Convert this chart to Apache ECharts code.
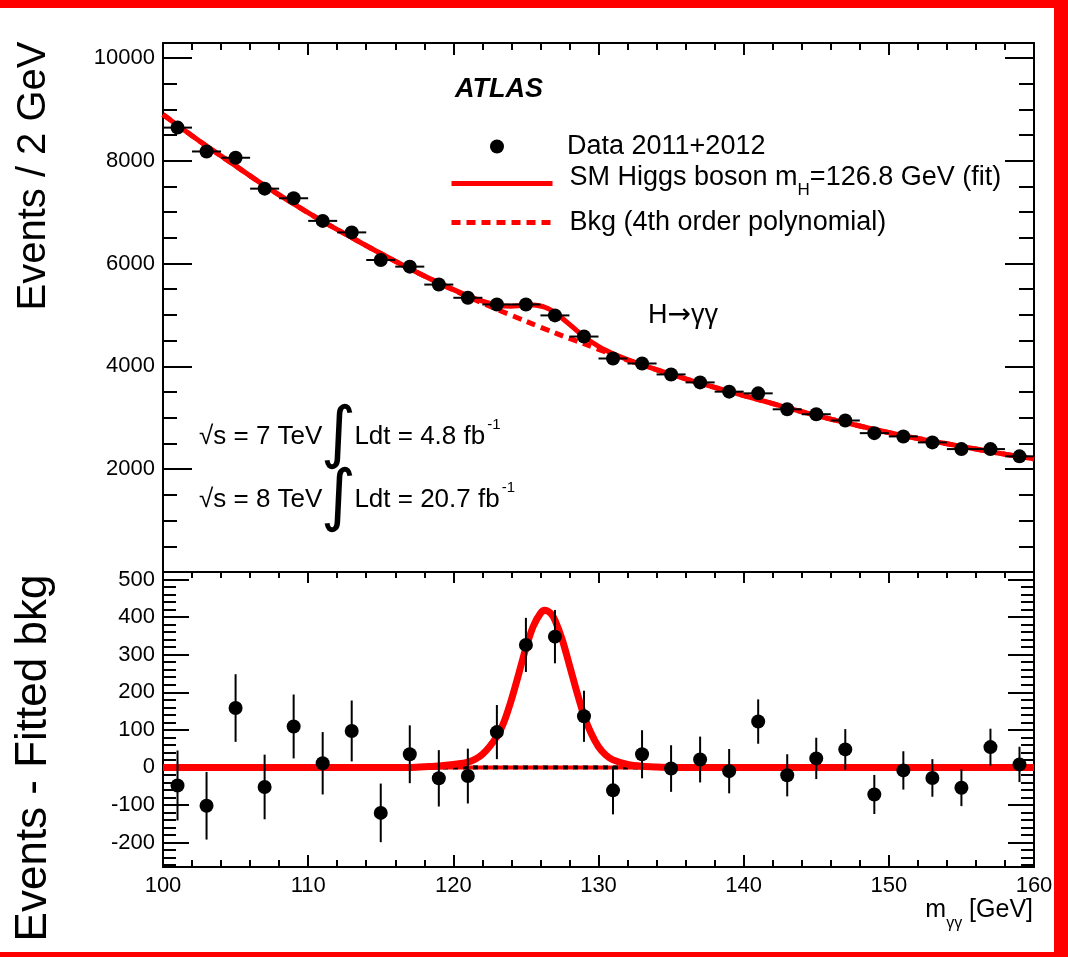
<!DOCTYPE html>
<html>
<head>
<meta charset="utf-8">
<script src="https://cdn.jsdelivr.net/npm/echarts@6/dist/echarts.min.js"></script>
<style>
html,body{margin:0;padding:0;background:#fff;}
#chart{width:1068px;height:957px;}
</style>
</head>
<body>
<div id="chart"></div>
<script>
// ---------------- data ----------------
const binCenters = [101,103,105,107,109,111,113,115,117,119,121,123,125,127,129,131,133,135,137,139,141,143,145,147,149,151,153,155,157,159];
const binWidth = 2;
const events = [8644,8180,8058,7457,7270,6830,6606,6069,5940,5591,5334,5204,5204,4991,4580,4153,4056,3843,3688,3508,3475,3165,3069,2947,2701,2637,2521,2391,2391,2250];
const eventErr = [93,90,90,86,85,83,81,78,77,75,73,72,72,71,68,64,64,62,61,59,59,56,55,54,52,51,50,49,49,47];
const residual = [-48,-102,158,-52,109,11,97,-121,35,-29,-23,94,326,348,136,-61,35,-3,21,-10,122,-21,24,48,-72,-8,-28,-54,54,8];

const fitX = [100,101,103,105,107,109,111,113,115,117,119,121,122,123,123.5,124,124.5,125,125.5,126,126.3,126.7,127,127.5,128,128.5,129,129.5,130,130.5,131,132,133,135,137,139,141,143,145,147,149,151,153,155,157,159,160];
const fitY = [8900,8690,8285,7900,7515,7160,6820,6505,6195,5900,5624,5371,5268,5192,5172,5171,5180,5196,5195,5174,5150,5099,5042,4937,4817,4696,4578,4478,4390,4313,4245,4131,4028,3845,3672,3512,3355,3193,3045,2905,2775,2650,2545,2443,2340,2245,2200];

const bkgX = [100,101,103,105,107,109,111,113,115,117,119,121,123,125,127,129,131,133,135,137,139,141,143,145,147,149,151,153,155,157,159,160];
const bkgY = [8900,8690,8285,7900,7515,7160,6820,6505,6195,5900,5620,5357,5110,4878,4650,4440,4225,4025,3845,3672,3512,3355,3193,3045,2905,2775,2650,2545,2443,2340,2245,2200];

const sigX = [100,110,115,117,118,119,120,121,122,123,123.5,124,124.5,125,125.5,126,126.3,126.7,127,127.5,128,128.5,129,129.5,130,130.5,131,132,133,134,135,140,160];
const sigY = [0,0,0,0,2,4,8,14,35,82,122,180,248,318,375,410,418,410,392,340,272,202,138,90,55,33,20,8,3,1,0,0,0];

const zeroX = [100,160];
const zeroY = [0,0];

const xTicks = {min:100, max:160, interval:10};
const topYRange = {min:0, max:10290};
const botYRange = {min:-265, max:520};

const seriesNames = {data:'Data 2011+2012', fit:'SM Higgs boson m_H=126.8 GeV (fit)', bkg:'Bkg (4th order polynomial)'};

// ---------------- chart ----------------
const FONT = '"Liberation Sans", Arial, Helvetica, sans-serif';
const chart = echarts.init(document.getElementById('chart'), null, {renderer:'canvas'});
const zip = (a,b) => a.map((v,i)=>[v,b[i]]);
const black = '#000';
const red = '#ff0000';
const dotted = [9,6];

function xAx(grid, pos, showLabel, majorLen, minorLen, showTicks){
  return {
    type:'value', gridIndex:grid, position:pos, min:xTicks.min, max:xTicks.max, interval:xTicks.interval,
    axisLine:{show:true, onZero:false, lineStyle:{color:black, width:2}},
    axisTick:{show:showTicks, inside:true, length:majorLen, lineStyle:{color:black, width:2}},
    minorTick:{show:showTicks, splitNumber:5, length:minorLen, lineStyle:{color:black, width:2}},
    splitLine:{show:false},
    axisLabel:{show:showLabel, color:black, fontSize:22, fontFamily:FONT, margin:8, formatter:v=>String(v)}
  };
}
function yAx(grid, pos, range, split, minorSplit, showLabel, majorLen, minorLen){
  return {
    type:'value', gridIndex:grid, position:pos, min:range.min, max:range.max, splitNumber:split,
    axisLine:{show:true, onZero:false, lineStyle:{color:black, width:2}},
    axisTick:{show:true, inside:true, length:majorLen, lineStyle:{color:black, width:2}},
    minorTick:{show:true, splitNumber:minorSplit, length:minorLen, lineStyle:{color:black, width:2}},
    splitLine:{show:false},
    axisLabel:{show:showLabel, color:black, fontSize:22, fontFamily:FONT, margin:8, showMinLabel:false, showMaxLabel:false, formatter:v=>String(v)}
  };
}

const errTop = {
  type:'custom', xAxisIndex:0, yAxisIndex:0, z:5, silent:true,
  data: binCenters.map((x,i)=>[x, events[i], eventErr[i]]),
  renderItem:(params, api)=>{
    const x = api.value(0), y = api.value(1), e = api.value(2);
    const l = api.coord([x-binWidth/2, y]), r = api.coord([x+binWidth/2, y]);
    const t = api.coord([x, y+e]), b = api.coord([x, y-e]);
    return {type:'group', children:[
      {type:'line', shape:{x1:l[0],y1:l[1],x2:r[0],y2:r[1]}, style:{stroke:black, lineWidth:2}},
      {type:'line', shape:{x1:t[0],y1:t[1],x2:b[0],y2:b[1]}, style:{stroke:black, lineWidth:2}}
    ]};
  }
};
const errBot = {
  type:'custom', xAxisIndex:2, yAxisIndex:2, z:5, silent:true,
  data: binCenters.map((x,i)=>[x, residual[i], eventErr[i]]),
  renderItem:(params, api)=>{
    const x = api.value(0), y = api.value(1), e = api.value(2);
    const t = api.coord([x, y+e]), b = api.coord([x, y-e]);
    return {type:'line', shape:{x1:t[0],y1:t[1],x2:b[0],y2:b[1]}, style:{stroke:black, lineWidth:2}};
  }
};

const legendText = {color:black, fontSize:27, fontFamily:FONT};

const lumiRich = {
  a:{fontSize:26, fontFamily:FONT, color:black, verticalAlign:'middle'},
  i:{fontSize:68, fontFamily:'"DejaVu Sans", sans-serif', color:black, verticalAlign:'middle', width:32, align:'center'},
  s:{fontSize:15, fontFamily:FONT, color:black, verticalAlign:'middle', padding:[0,0,24,2]}
};

const option = {
  animation:false,
  backgroundColor:'#fff',
  grid:[
    {left:163, top:43, width:871, height:529, containLabel:false},
    {left:163, top:572, width:871, height:295, containLabel:false}
  ],
  xAxis:[
    xAx(0,'bottom',false,12,7,false),
    xAx(0,'top',false,12,7,true),
    xAx(1,'bottom',true,12,7,true),
    xAx(1,'top',false,11,6,true)
  ],
  yAxis:[
    yAx(0,'left',topYRange,5,4,true,29,14),
    yAx(0,'right',topYRange,5,4,false,29,15),
    yAx(1,'left',botYRange,8,5,true,26,13),
    yAx(1,'right',botYRange,8,5,false,26,13)
  ],
  legend:[
    {data:[seriesNames.data], left:490, top:133, padding:0, itemWidth:14, itemHeight:14, icon:'circle', selectedMode:false,
     itemStyle:{opacity:1, color:black},
     textStyle:Object.assign({padding:[0,0,0,58]}, legendText)},
    {data:[seriesNames.fit], left:449, top:164, padding:0, itemWidth:101, itemHeight:14, selectedMode:false,
     itemStyle:{opacity:0},
     lineStyle:{color:red, width:5, type:'solid'},
     formatter:()=>'{a|SM Higgs boson m}{sub|H}{a|=126.8 GeV (fit)}',
     textStyle:Object.assign({padding:[0,0,0,12], rich:{
        a:{fontSize:27, fontFamily:FONT, color:black, padding:[0,0,12,0], verticalAlign:'middle'},
        sub:{fontSize:17, fontFamily:FONT, color:black, padding:[13,0,0,0], verticalAlign:'middle'}
     }}, legendText)},
    {data:[seriesNames.bkg], left:449, top:209, padding:0, itemWidth:101, itemHeight:14, selectedMode:false,
     itemStyle:{opacity:0},
     lineStyle:{color:red, width:5, type:dotted},
     textStyle:Object.assign({padding:[0,0,0,12]}, legendText)}
  ],
  series:[
    {name:seriesNames.bkg, type:'line', xAxisIndex:0, yAxisIndex:0, data:zip(bkgX,bkgY), smooth:0.3, showSymbol:false, symbol:'none', z:2,
     lineStyle:{color:red, width:5, type:dotted}, itemStyle:{color:red}},
    {name:seriesNames.fit, type:'line', xAxisIndex:0, yAxisIndex:0, data:zip(fitX,fitY), smooth:0.3, showSymbol:false, symbol:'none', z:3,
     lineStyle:{color:red, width:5}, itemStyle:{color:red}},
    errTop,
    {name:seriesNames.data, type:'scatter', xAxisIndex:0, yAxisIndex:0, data:zip(binCenters,events), symbol:'circle', symbolSize:14, z:6,
     itemStyle:{color:black, opacity:1}},
    {name:'zeroRed', type:'line', xAxisIndex:2, yAxisIndex:2, data:zip(zeroX,zeroY), showSymbol:false, symbol:'none', z:1,
     lineStyle:{color:red, width:4}},
    {name:'zeroBlack', type:'line', xAxisIndex:2, yAxisIndex:2, data:zip(zeroX,zeroY), showSymbol:false, symbol:'none', z:2,
     lineStyle:{color:black, width:4, type:[5,5]}},
    {name:'signal', type:'line', xAxisIndex:2, yAxisIndex:2, data:zip(sigX,sigY), smooth:0.3, showSymbol:false, symbol:'none', z:3,
     lineStyle:{color:red, width:7}},
    errBot,
    {name:'residual', type:'scatter', xAxisIndex:2, yAxisIndex:2, data:zip(binCenters,residual), symbol:'circle', symbolSize:14, z:6,
     itemStyle:{color:black, opacity:1}}
  ],
  graphic:[
    {type:'rect', shape:{x:0,y:0,width:1068,height:8}, style:{fill:red}, z:100},
    {type:'rect', shape:{x:1054,y:0,width:14,height:957}, style:{fill:red}, z:100},
    {type:'rect', shape:{x:0,y:952,width:1068,height:5}, style:{fill:red}, z:100},
    {type:'text', x:34, y:176, rotation:Math.PI/2, z:50,
     style:{text:'Events / 2 GeV', font:'40px ' + FONT, fill:black, textAlign:'center', textVerticalAlign:'middle', verticalAlign:'middle'}},
    {type:'text', x:34, y:758, rotation:Math.PI/2, z:50,
     style:{text:'Events - Fitted bkg', font:'44px ' + FONT, fill:black, textAlign:'center', textVerticalAlign:'middle', verticalAlign:'middle'}},
    {type:'text', x:455, y:90, z:50,
     style:{text:'ATLAS', font:'italic bold 27px ' + FONT, fill:black, textAlign:'left', textVerticalAlign:'middle', verticalAlign:'middle'}},
    {type:'text', x:648, y:316, z:50,
     style:{text:'{a|H}{r|\u2192}{a|\u03b3\u03b3}', textAlign:'left', textVerticalAlign:'middle', verticalAlign:'middle',
       rich:{a:{fontSize:27, fontFamily:FONT, color:black, verticalAlign:'middle'},
             r:{fontSize:28, fontFamily:'"DejaVu Sans", sans-serif', color:black, verticalAlign:'middle'}}}},
    {type:'text', x:199, y:437, z:50,
     style:{text:'{a|\u221as = 7 TeV}{i|\u222b}{a|Ldt = 4.8 fb}{s|-1}', textAlign:'left', textVerticalAlign:'middle', verticalAlign:'middle',
       rich:lumiRich}},
    {type:'text', x:199, y:500, z:50,
     style:{text:'{a|\u221as = 8 TeV}{i|\u222b}{a|Ldt = 20.7 fb}{s|-1}', textAlign:'left', textVerticalAlign:'middle', verticalAlign:'middle',
       rich:lumiRich}},
    {type:'text', x:1033, y:916, z:50,
     style:{text:'{a|m}{sub|\u03b3\u03b3}{a| [GeV]}', textAlign:'right', textVerticalAlign:'middle', verticalAlign:'middle',
       rich:{a:{fontSize:25, fontFamily:FONT, color:black, verticalAlign:'middle', padding:[0,0,12,0]},
             sub:{fontSize:16, fontFamily:FONT, color:black, verticalAlign:'middle', padding:[16,0,0,0]}}}}
  ]
};
chart.setOption(option);
</script>
</body>
</html>
